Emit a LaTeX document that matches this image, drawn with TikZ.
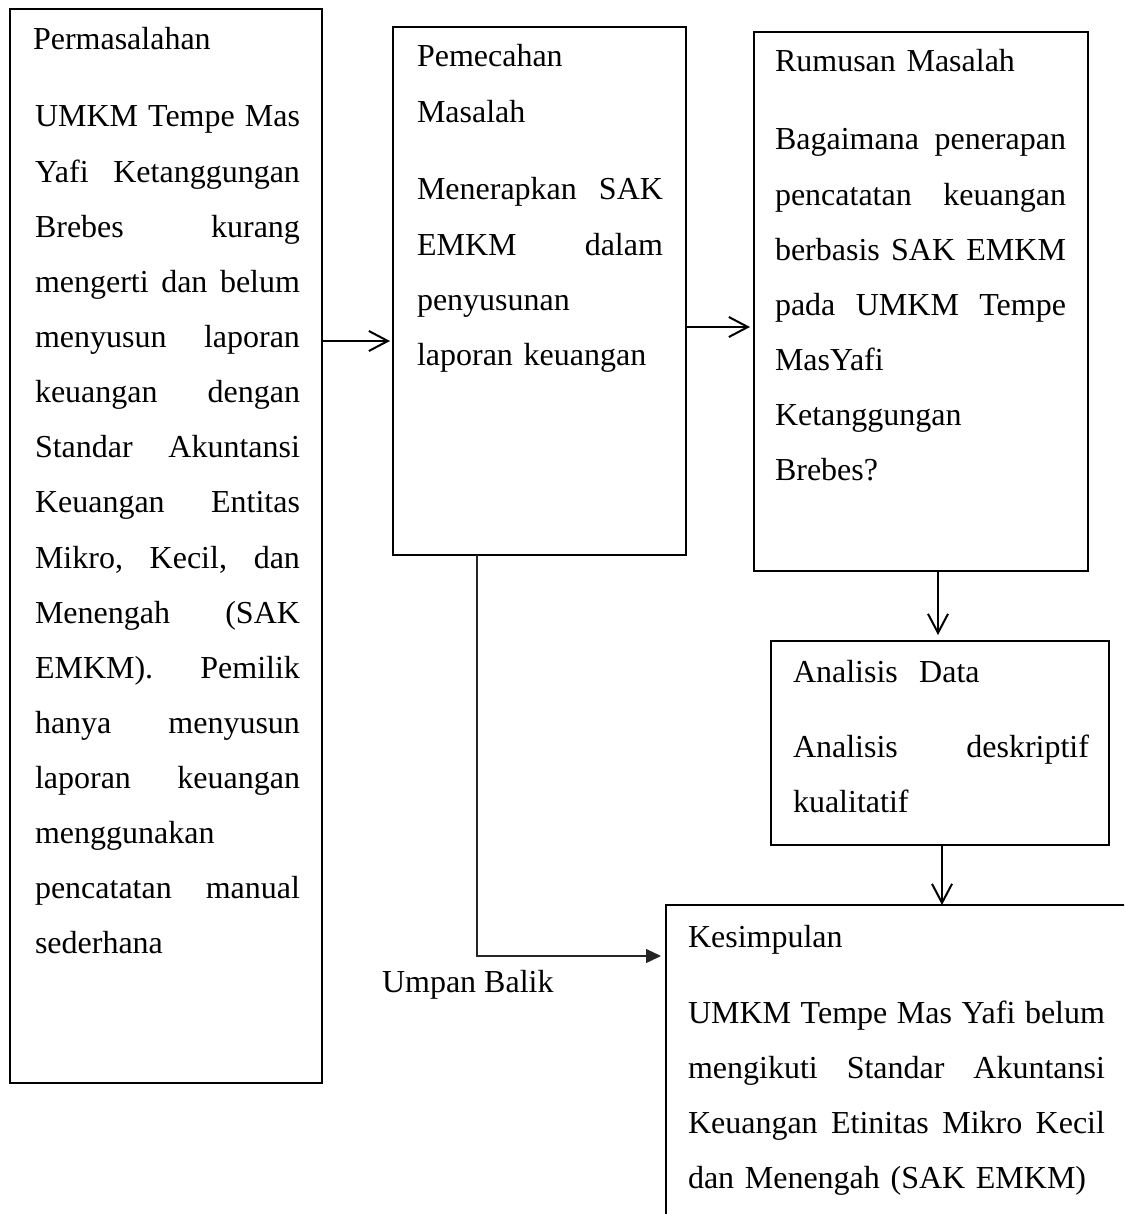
\documentclass[tikz,border=0pt]{standalone}
\usepackage{fontspec}
\setmainfont{Liberation Serif}
\usetikzlibrary{arrows.meta}
\newcommand\jl[2]{\leavevmode\hbox to #1{\spaceskip=0.25em plus 20em\relax\xspaceskip=0.25em plus 20em\relax #2}}
\newcommand\fs{\leavevmode\rule{0pt}{30pt}}
\begin{document}
\begin{tikzpicture}[x=1pt,y=-1pt,
  box/.style={draw, line width=2.5pt, rectangle, anchor=north west, inner sep=0pt, outer sep=0pt},
  txt/.style={anchor=north west, inner sep=0pt, outer sep=0pt, align=left,
    font=\fontsize{32}{55.13}\selectfont\parindent0pt},
  arr/.style={line width=2pt, -{Straight Barb[length=19pt,width=20pt,line width=2pt]}},
  fb/.style={line width=1.3pt, black!85, -{Triangle[length=15pt,width=14pt]}}]
\useasboundingbox (0,0) rectangle (1124,1214);
\clip (0,0) rectangle (1124,1214);
% boxes
\node[box, minimum width=312pt, minimum height=1074pt] (b1) at (10,9) {};
\node[box, minimum width=293pt, minimum height=528pt] (b2) at (393,27) {};
\node[box, minimum width=334pt, minimum height=539pt] (b3) at (754,32) {};
\node[box, minimum width=338pt, minimum height=204pt] (b4) at (771,641) {};
\node[box, minimum width=468pt, minimum height=330pt] (b5) at (666,905) {};
% texts
\node[txt, text width=270pt] (t1) at (33,20) {\fs Permasalahan};
\node[txt, text width=268pt] (d1) at (35,97) {\fs\jl{265pt}{UMKM Tempe Mas}\\
\jl{265pt}{Yafi Ketanggungan}\\
\jl{265pt}{Brebes kurang}\\
\jl{265pt}{mengerti dan belum}\\
\jl{265pt}{menyusun laporan}\\
\jl{265pt}{keuangan dengan}\\
\jl{265pt}{Standar Akuntansi}\\
\jl{265pt}{Keuangan Entitas}\\
\jl{265pt}{Mikro, Kecil, dan}\\
\jl{265pt}{Menengah (SAK}\\
\jl{265pt}{EMKM). Pemilik}\\
\jl{265pt}{hanya menyusun}\\
\jl{265pt}{laporan keuangan}\\
menggunakan\\
\jl{265pt}{pencatatan manual}\\
sederhana};
\node[txt, text width=250pt] (t2) at (417,37) {\fs Pemecahan\\Masalah};
\node[txt, text width=249pt] (d2) at (417,170) {\fs\jl{246pt}{Menerapkan SAK}\\
\jl{246pt}{EMKM dalam}\\
penyusunan\\
laporan keuangan};
\node[txt, text width=295pt] (t3) at (775,42) {\fs Rumusan Masalah};
\node[txt, text width=294pt] (d3) at (775,120) {\fs\jl{291pt}{Bagaimana penerapan}\\
\jl{291pt}{pencatatan keuangan}\\
\jl{291pt}{berbasis SAK EMKM}\\
\jl{291pt}{pada UMKM Tempe}\\
MasYafi\\
Ketanggungan\\
Brebes?};
\node[txt, text width=300pt] (t4) at (793,652) {\fs Analisis\ \ Data};
\node[txt, text width=299pt] (d4) at (793,727) {\fs\jl{296pt}{Analisis deskriptif}\\
kualitatif};
\node[txt, text width=420pt] (t5) at (688,917) {\fs Kesimpulan};
\node[txt, text width=420pt] (d5) at (688,993) {\fs\jl{417pt}{UMKM Tempe Mas Yafi belum}\\
\jl{417pt}{mengikuti Standar Akuntansi}\\
\jl{417pt}{Keuangan Etinitas Mikro Kecil}\\
dan Menengah (SAK EMKM)};
\node[txt] (ub) at (382,962) {\fs Umpan Balik};
% connectors
\draw[arr, shorten >=3pt] (b1.east |- 0,341) -- (b2.west |- 0,341);
\draw[arr, shorten >=4pt] (b2.east |- 0,327) -- (b3.west |- 0,327);
\draw[arr, shorten >=6pt] (b3.south -| 938,0) -- (b4.north -| 938,0);
\draw[arr] (b4.south -| 942,0) -- (b5.north -| 942,0);
\draw[fb, shorten >=5pt] (b2.south -| 477,0) |- (b5.west |- 0,956);
\end{tikzpicture}
\end{document}
